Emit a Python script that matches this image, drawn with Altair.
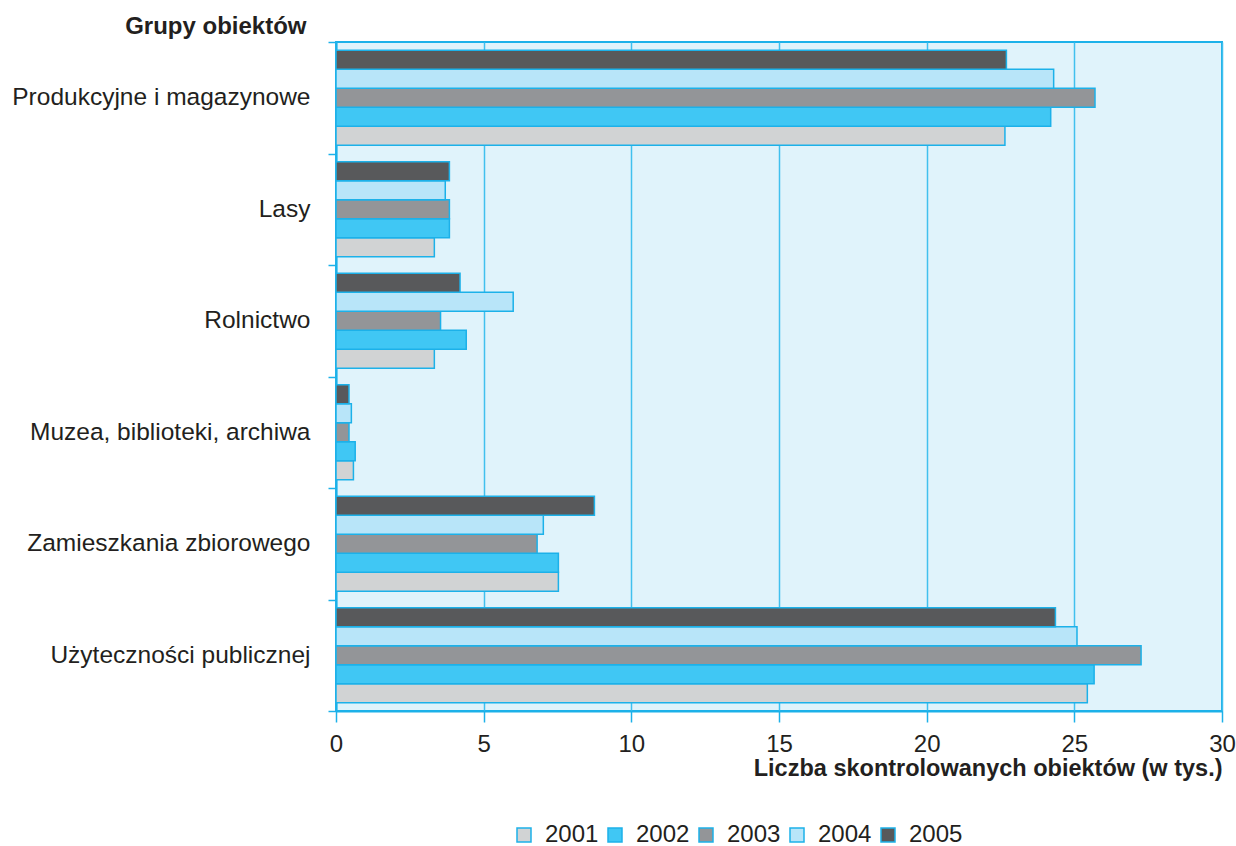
import altair as alt
import pandas as pd

categories = ["Produkcyjne i magazynowe", "Lasy", "Rolnictwo",
              "Muzea, biblioteki, archiwa", "Zamieszkania zbiorowego",
              "Użyteczności publicznej"]
years = ["2001", "2002", "2003", "2004", "2005"]
v2001 = [22.65, 3.33, 3.33, 0.59, 7.53, 25.44]
v2002 = [24.2, 3.84, 4.41, 0.65, 7.53, 25.67]
v2003 = [25.7, 3.84, 3.54, 0.44, 6.81, 27.26]
v2004 = [24.3, 3.70, 6.0, 0.52, 7.02, 25.09]
v2005 = [22.7, 3.84, 4.2, 0.44, 8.75, 24.36]
colors = ["#d1d3d4", "#40c7f4", "#939598", "#b8e5f9", "#58595b"]

rows = []
for y, vals in zip(years, [v2001, v2002, v2003, v2004, v2005]):
    for c, v in zip(categories, vals):
        rows.append({"cat": c, "year": y, "val": v})
df = pd.DataFrame(rows)

BLUE = "#1cb1e9"
FONT = "Liberation Sans"
TXT = "#231f20"

chart = alt.Chart(df).mark_bar(stroke=BLUE, strokeWidth=1.5).encode(
    x=alt.X("val:Q", scale=alt.Scale(domain=[0, 30], nice=False),
            axis=alt.Axis(values=[0, 5, 10, 15, 20, 25, 30], title="Liczba skontrolowanych obiektów (w tys.)",
                          titleAlign="right", titleX=886, titleY=64, titleBaseline="alphabetic",
                          titleFontSize=23.5, titleFontWeight="bold", titleFont=FONT, titleColor=TXT,
                          labelFontSize=24, labelFont=FONT, labelColor=TXT, labelPadding=10,
                          labelFlush=False,
                          tickSize=11, tickColor=BLUE, tickWidth=1.5,
                          domainColor=BLUE, domainWidth=2,
                          grid=True, gridColor="#40c0ee", gridWidth=1.5)),
    y=alt.Y("cat:N", sort=categories,
            scale=alt.Scale(paddingInner=0, paddingOuter=0),
            axis=alt.Axis(title="Grupy obiektów", titleAngle=0, titleAlign="right",
                          titleX=-30, titleY=-9, titleBaseline="alphabetic",
                          titleFontSize=24, titleFontWeight="bold", titleFont=FONT, titleColor=TXT,
                          labelFontSize=24.5, labelFont=FONT, labelColor=TXT, labelPadding=18,
                          labelLimit=400,
                          tickBand="extent", tickSize=8, tickColor=BLUE, tickWidth=1.5,
                          domainColor=BLUE, domainWidth=2, grid=False)),
    yOffset=alt.YOffset("year:N", sort="descending",
                        scale=alt.Scale(paddingInner=0, paddingOuter=0.43)),
    color=alt.Color("year:N", scale=alt.Scale(domain=years, range=colors),
                    legend=alt.Legend(title=None, orient="none", direction="horizontal",
                                      legendX=176, legendY=781,
                                      symbolType="square", symbolSize=196,
                                      symbolStrokeColor=BLUE, symbolStrokeWidth=1.5,
                                      labelFontSize=24, labelFont=FONT, labelColor=TXT,
                                      labelOffset=9, columnPadding=4)),
).properties(
    width=886, height=669,
    autosize=alt.AutoSizeParams(type="none"),
    padding={"left": 336, "top": 42, "right": 14, "bottom": 135},
).configure_view(
    fill="#e0f3fb", stroke=BLUE, strokeWidth=2
)

chart.save("out.html", embed_options={"renderer": "svg", "actions": False})
